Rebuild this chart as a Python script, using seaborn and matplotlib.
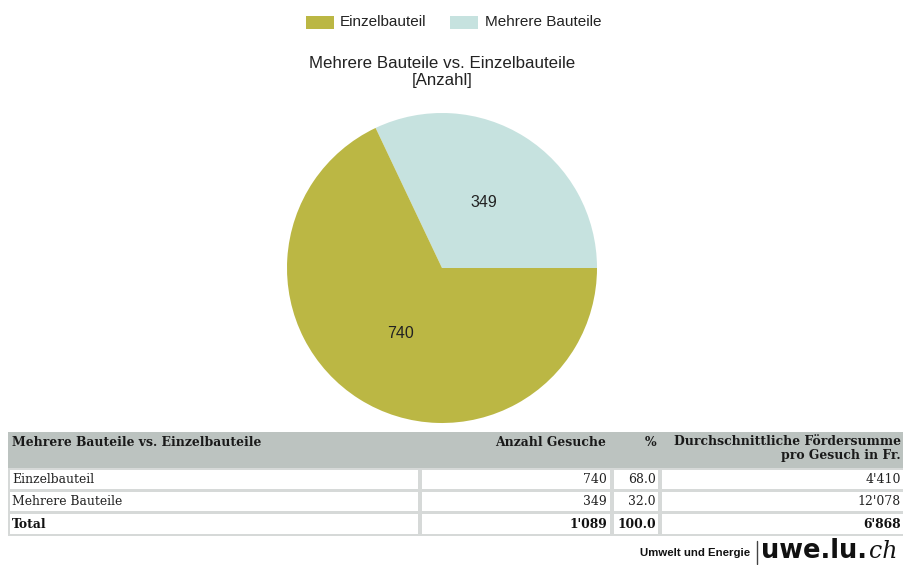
import matplotlib
matplotlib.use("Agg")
import matplotlib.pyplot as plt
import seaborn as sns
from matplotlib.patches import Rectangle

sns.set_theme(style="white")
plt.rcParams['font.family'] = ['Liberation Sans', 'DejaVu Sans']

# ---- data ----
categories = ["Einzelbauteil", "Mehrere Bauteile"]
counts = [740, 349]
percents = ["68.0", "32.0"]
avg_amount = ["4'410", "12'078"]
total_count = "1'089"
total_percent = "100.0"
total_amount = "6'868"
colors = ["#BBB744", "#C6E2DF"]
title = "Mehrere Bauteile vs. Einzelbauteile\n[Anzahl]"
table_headers = ["Mehrere Bauteile vs. Einzelbauteile", "Anzahl Gesuche", "%",
                 "Durchschnittliche Fördersumme\npro Gesuch in Fr."]

W, H = 904, 565
fig = plt.figure(figsize=(W / 100, H / 100), dpi=100)
fig.patch.set_facecolor("white")

def fx(x):
    return x / W

def fy(y):
    return 1 - y / H

# ---- pie ----
cx, cy, r = 442, 268, 155
ax = fig.add_axes([fx(cx - r), fy(cy + r), 2 * r / W, 2 * r / H])
order = [1, 0]  # Mehrere Bauteile first, starting at 3 o'clock counterclockwise
wedges, texts = ax.pie([counts[i] for i in order],
                       colors=[colors[i] for i in order],
                       labels=[str(counts[i]) for i in order],
                       labeldistance=0.5, startangle=0, counterclock=True,
                       wedgeprops=dict(linewidth=0, edgecolor="none"),
                       textprops=dict(fontsize=11.5, color="#222222"))
for t in texts:
    t.set_horizontalalignment("center")
    t.set_verticalalignment("center")
ax.set_xlim(-1, 1)
ax.set_ylim(-1, 1)
ax.set_aspect("equal")
ax.axis("off")

# ---- overlay axes in pixel coords ----
ov = fig.add_axes([0, 0, 1, 1], zorder=-1)
ov.set_xlim(0, W)
ov.set_ylim(H, 0)
ov.axis("off")

# legend
ov.add_patch(Rectangle((306, 16), 28, 13, color=colors[0], lw=0))
ov.text(340, 22.5, categories[0], fontsize=11, va="center", ha="left", color="#222222")
ov.add_patch(Rectangle((450, 16), 28, 13, color=colors[1], lw=0))
ov.text(485, 22.5, categories[1], fontsize=11, va="center", ha="left", color="#222222")

# title
ov.text(442, 72, title, fontsize=12.2, ha="center", va="center", color="#222222",
        linespacing=1.1)

# ---- table ----
serif = ['DejaVu Serif']
grid = "#D6D9D8"
ov.add_patch(Rectangle((8, 432), W - 8, 104, facecolor=grid, lw=0))
ov.add_patch(Rectangle((8, 432), W - 8, 36, facecolor="#BCC3C0", lw=0))
cols = [(10, 418), (422, 610), (614, 658), (662, W)]
rows = [(470, 489), (492, 511), (514, 534)]
for (y0, y1) in rows:
    for (x0, x1) in cols:
        ov.add_patch(Rectangle((x0, y0), x1 - x0, y1 - y0, facecolor="white", lw=0))

hy = 442
fs = 8.9
ov.text(12, hy, table_headers[0], fontsize=fs, fontweight="bold", family=serif,
        ha="left", va="center", color="#1a1a1a")
ov.text(606, hy, table_headers[1], fontsize=fs, fontweight="bold", family=serif,
        ha="right", va="center", color="#1a1a1a")
ov.text(656, hy, table_headers[2], fontsize=fs, fontweight="bold", family=serif,
        ha="right", va="center", color="#1a1a1a")
ov.text(901, hy - 7, table_headers[3], fontsize=fs, fontweight="bold", family=serif,
        ha="right", va="top", color="#1a1a1a", linespacing=1.1, multialignment="right")

for i, (y0, y1) in enumerate(rows[:2]):
    yc = (y0 + y1) / 2
    ov.text(12, yc, categories[i], fontsize=fs, family=serif, ha="left", va="center", color="#222222")
    ov.text(607, yc, str(counts[i]), fontsize=fs, family=serif, ha="right", va="center", color="#222222")
    ov.text(656, yc, percents[i], fontsize=fs, family=serif, ha="right", va="center", color="#222222")
    ov.text(901, yc, avg_amount[i], fontsize=fs, family=serif, ha="right", va="center", color="#222222")
yc = (rows[2][0] + rows[2][1]) / 2
ov.text(12, yc, "Total", fontsize=fs, fontweight="bold", family=serif, ha="left", va="center", color="#111111")
ov.text(607, yc, total_count, fontsize=fs, fontweight="bold", family=serif, ha="right", va="center", color="#111111")
ov.text(656, yc, total_percent, fontsize=fs, fontweight="bold", family=serif, ha="right", va="center", color="#111111")
ov.text(901, yc, total_amount, fontsize=fs, fontweight="bold", family=serif, ha="right", va="center", color="#111111")

# ---- footer logo ----
ov.text(750, 553, "Umwelt und Energie", fontsize=8.2, fontweight="bold", ha="right", va="center",
        color="#111111")
ov.plot([757, 757], [541, 564], color="#444444", lw=1)
ov.text(761, 551, "uwe.lu.", fontsize=18.5, fontweight="heavy", ha="left", va="center",
        color="#111111", family=['DejaVu Sans'])
ov.text(869, 551, "ch", fontsize=17, style="italic", ha="left", va="center",
        color="#111111", family=['DejaVu Serif'])

fig.savefig("out.png", dpi=100, facecolor="white")
